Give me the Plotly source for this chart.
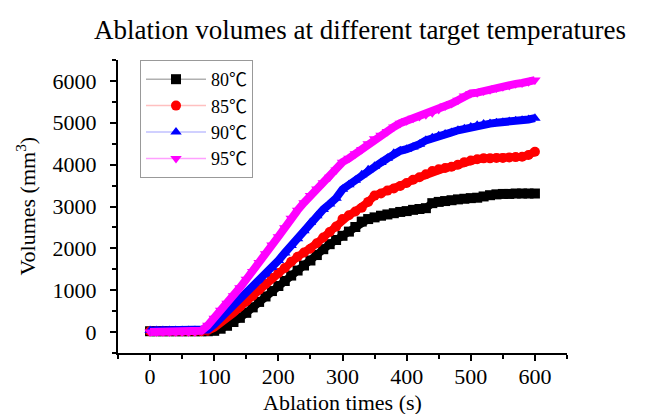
import plotly.graph_objects as go

times = list(range(0, 610, 10))

v80 = [20, 20, 20, 20, 20, 20, 20, 20, 20, 20,
       30, 80, 150, 240, 340, 460, 590, 720, 850, 980,
       1100, 1220, 1350, 1470, 1590, 1710, 1840, 1980, 2100, 2200,
       2300, 2400, 2510, 2640, 2700, 2740, 2780, 2810, 2840, 2870,
       2890, 2920, 2940, 2960, 3080, 3110, 3130, 3150, 3170, 3185,
       3200, 3210, 3240, 3270, 3290, 3300, 3300, 3310, 3310, 3310, 3310]
v85 = [20, 20, 20, 20, 20, 20, 20, 20, 20, 30,
       100, 200, 320, 450, 590, 730, 870, 1010, 1150, 1290,
       1410, 1530, 1680, 1800, 1900, 1990, 2120, 2260, 2390, 2520,
       2700, 2790, 2880, 2970, 3110, 3260, 3310, 3380, 3430, 3490,
       3560, 3640, 3700, 3770, 3850, 3890, 3920, 3950, 4000, 4060,
       4100, 4130, 4150, 4150, 4160, 4160, 4170, 4180, 4190, 4230, 4310]
v90 = [40, 40, 40, 40, 40, 40, 40, 40, 40, 60,
       180, 330, 470, 610, 760, 920, 1070, 1220, 1380, 1540,
       1710, 1890, 2070, 2230, 2420, 2620, 2780, 2930, 3060, 3200,
       3410, 3520, 3630, 3760, 3880, 3960, 4050, 4150, 4270, 4330,
       4370, 4420, 4490, 4580, 4640, 4690, 4730, 4770, 4820, 4860,
       4900, 4940, 4970, 4980, 5000, 5010, 5030, 5050, 5060, 5080, 5110]
v95 = [0, 0, 0, 0, 0, 0, 0, 0, 30, 160,
       330, 520, 690, 870, 1060, 1260, 1450, 1660, 1870, 2080,
       2280, 2490, 2720, 2910, 3090, 3260, 3420, 3570, 3700, 3870,
       4060, 4150, 4260, 4360, 4500, 4620, 4700, 4790, 4900, 4990,
       5050, 5110, 5150, 5190, 5240, 5320, 5400, 5460, 5540, 5640,
       5700, 5720, 5760, 5790, 5830, 5860, 5890, 5930, 5950, 5980, 6020]

series_names = ["80℃", "85℃", "90℃", "95℃"]
series_values = [v80, v85, v90, v95]
colors = ["#000000", "#ff0000", "#0000ff", "#ff00ff"]
light = ["#b0b0b0", "#ffc0c0", "#c0c0ff", "#ffa0ff"]
symbols = ["square", "circle", "triangle-up", "triangle-down"]

x_ticks = [0, 100, 200, 300, 400, 500, 600]
y_ticks = [0, 1000, 2000, 3000, 4000, 5000, 6000]

FONT = "Liberation Serif, Noto Sans CJK SC, serif"

L, R, T, B = 118, 85, 60, 61
W, H = 652, 414
PW, PH = W - L - R, H - T - B

fig = go.Figure()
for name, vals, c, lc, s in zip(series_names, series_values, colors, light, symbols):
    fig.add_trace(go.Scatter(
        x=times, y=vals, name=name, mode="lines+markers",
        line=dict(color=lc, width=1.5),
        marker=dict(symbol=s, size=10, color=c, line=dict(width=0)),
        legendgroup=name,
    ))
for name, vals, c in zip(series_names, series_values, colors):
    fig.add_trace(go.Scatter(
        x=times, y=vals, mode="lines", showlegend=False,
        line=dict(color=c, width=8), legendgroup=name, hoverinfo="skip",
    ))

fig.update_layout(
    width=W, height=H,
    margin=dict(l=L, r=R, t=T, b=B, autoexpand=False),
    paper_bgcolor="white", plot_bgcolor="white",
    font=dict(family=FONT, color="black", size=20),
    title=dict(text="Ablation volumes at different target temperatures",
               x=360 / W, xref="container", xanchor="center",
               y=1 - 30 / H, yref="container", yanchor="middle",
               font=dict(size=27, family=FONT, color="black")),
    showlegend=True,
    legend=dict(x=(140 - L) / PW, y=1.0, xanchor="left", yanchor="top",
                bgcolor="white", bordercolor="#999999", borderwidth=1,
                font=dict(size=18, family=FONT), tracegroupgap=0,
                itemwidth=60),
    annotations=[
        dict(text="Ablation times (s)", xref="paper", yref="paper",
             x=0.5, y=-(402 - (T + PH)) / PH, xanchor="center", yanchor="middle",
             showarrow=False, font=dict(size=22, family=FONT)),
        dict(text="Volumes (mm<sup>3</sup>)", xref="paper", yref="paper",
             x=-(L - 25) / PW, y=0.5, xanchor="center", yanchor="middle",
             textangle=-90, showarrow=False, font=dict(size=22, family=FONT)),
    ],
)

fig.update_xaxes(
    range=[-50, 650], tickvals=x_ticks, ticktext=[str(v) for v in x_ticks],
    showline=True, linecolor="black", linewidth=2, showgrid=False, zeroline=False,
    ticks="outside", ticklen=6, tickwidth=2, tickcolor="black",
    minor=dict(dtick=50, tick0=0, ticks="outside", ticklen=4, tickwidth=2, tickcolor="black"),
    tickfont=dict(size=22, family=FONT), automargin=False, ticklabelstandoff=-3,
)
fig.update_yaxes(
    range=[-500, 6500], tickvals=y_ticks, ticktext=[str(v) for v in y_ticks],
    showline=True, linecolor="black", linewidth=2, showgrid=False, zeroline=False,
    ticks="outside", ticklen=6, tickwidth=2, tickcolor="black",
    minor=dict(dtick=500, tick0=0, ticks="outside", ticklen=4, tickwidth=2, tickcolor="black"),
    tickfont=dict(size=22, family=FONT), automargin=False, ticklabelstandoff=9,
)

fig.write_html("out.html",
               config={"displayModeBar": False},
               post_script="document.body.style.margin='0';document.body.style.padding='0';")
